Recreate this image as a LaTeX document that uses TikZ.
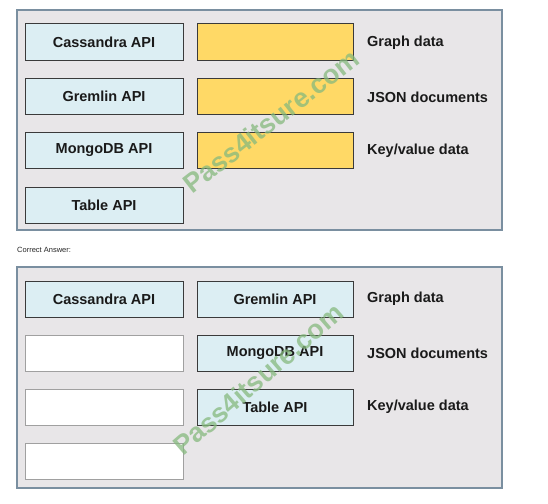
\documentclass[tikz,border=0pt]{standalone}
\usepackage{fontspec}
\setmainfont{Liberation Sans}
\begin{document}
\begin{tikzpicture}[x=1pt,y=-1pt,
  panel/.style={draw=panelborder,fill=panelfill,line width=1.2pt},
  apibox/.style={draw=boxborder,fill=boxblue,line width=1pt,minimum width=158pt,minimum height=36pt,inner sep=0pt,font=\bfseries\fontsize{14.5}{16}\selectfont,text=textdark},
  slotbox/.style={draw=boxborder,fill=slotyellow,line width=1pt,minimum width=156pt,minimum height=36pt,inner sep=0pt},
  emptybox/.style={draw=emptyborder,fill=white,line width=0.8pt,minimum width=158pt,minimum height=36pt,inner sep=0pt},
  label/.style={anchor=west,inner sep=0pt,font=\bfseries\fontsize{14.5}{16}\selectfont,text=textdark},
  wmark/.style={font=\bfseries\fontsize{27}{29}\selectfont,text=wmgreen,opacity=0.75,inner sep=0pt}
]
\definecolor{panelfill}{HTML}{E8E6E8}
\definecolor{panelborder}{HTML}{7A8FA0}
\definecolor{boxblue}{HTML}{DCEEF3}
\definecolor{boxborder}{HTML}{3A3A3A}
\definecolor{slotyellow}{HTML}{FFD966}
\definecolor{emptyborder}{HTML}{A0A0A0}
\definecolor{textdark}{HTML}{1A1A1A}
\definecolor{wmgreen}{HTML}{86B97E}
\useasboundingbox[fill=white] (0,0) rectangle (548,503);
% top panel
\node[panel,minimum width=485pt,minimum height=220pt,inner sep=0pt] (p1) at (259.5,120) {};
\node[apibox] (c1) at (104,42) {Cassandra API};
\node[apibox] (g1) at (104,96) {Gremlin API};
\node[apibox] (m1) at (104,150.5) {MongoDB API};
\node[apibox] (t1) at (104,205) {Table API};
\node[slotbox] (s1) at (275,42) {};
\node[slotbox] (s2) at (275,96) {};
\node[slotbox] (s3) at (275,150.5) {};
\node[label] (l1) at (367,43) {Graph data};
\node[label] (l2) at (367,97) {JSON documents};
\node[label] (l3) at (367,151) {Key/value data};
\node[wmark,rotate=38] (w1) at (271,121) {Pass4itsure.com};
% caption
\node[anchor=west,inner sep=0pt,font=\fontsize{7.5}{9}\selectfont,text=black!85] (ca) at (17,250) {Correct Answer:};
% bottom panel
\node[panel,minimum width=485pt,minimum height=221pt,inner sep=0pt] (p2) at (259.5,377.5) {};
\node[apibox] (c2) at (104,299) {Cassandra API};
\node[emptybox] (e1) at (104,353) {};
\node[emptybox] (e2) at (104,407) {};
\node[emptybox] (e3) at (104,461.5) {};
\node[apibox,minimum width=156pt] (g2) at (275,299) {Gremlin API};
\node[apibox,minimum width=156pt] (m2) at (275,353) {MongoDB API};
\node[apibox,minimum width=156pt] (t2) at (275,407) {Table API};
\node[label] (l4) at (367,299) {Graph data};
\node[label] (l5) at (367,353) {JSON documents};
\node[label] (l6) at (367,407) {Key/value data};
\node[wmark,rotate=41] (w2) at (258,379) {Pass4itsure.com};
\end{tikzpicture}
\end{document}
